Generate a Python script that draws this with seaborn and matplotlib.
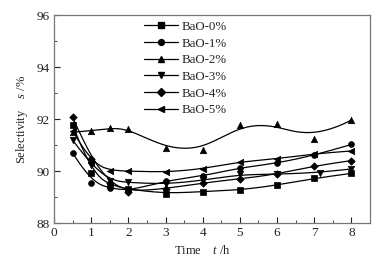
import numpy as np
import pandas as pd
import seaborn as sns
import matplotlib
matplotlib.use("Agg")
import matplotlib.pyplot as plt
from matplotlib.lines import Line2D
from matplotlib.ticker import MultipleLocator

sns.set_theme(style="white")
plt.rcParams['font.family'] = ['Liberation Serif', 'DejaVu Serif']
plt.rcParams['mathtext.fontset'] = 'custom'
plt.rcParams['mathtext.rm'] = 'Liberation Serif'
plt.rcParams['mathtext.it'] = 'Liberation Serif:italic'

series_names = ["BaO-0%", "BaO-1%", "BaO-2%", "BaO-3%", "BaO-4%", "BaO-5%"]
x_common = [0.5, 1, 1.5, 2, 3, 4, 5, 6, 7, 8]
x_bao3 = [0.5, 1, 1.5, 2, 3, 4, 5, 6, 7.15, 8]
bao0 = [91.77, 89.93, 89.45, 89.30, 89.13, 89.21, 89.27, 89.45, 89.72, 89.91]
bao1 = [90.70, 89.55, 89.35, 89.22, 89.63, 89.80, 90.13, 90.29, 90.60, 91.02]
bao2 = [91.49, 91.55, 91.65, 91.63, 90.87, 90.81, 91.76, 91.81, 91.22, 91.96]
bao3 = [91.19, 90.23, 89.62, 89.56, 89.49, 89.64, 89.87, 89.87, 89.94, 90.08]
bao4 = [92.07, 90.46, 89.55, 89.20, 89.32, 89.54, 89.70, 89.87, 90.20, 90.40]
bao5 = [91.55, 90.30, 90.01, 90.00, 89.95, 90.08, 90.36, 90.46, 90.67, 90.77]
x_ticks = [0, 1, 2, 3, 4, 5, 6, 7, 8]
y_ticks = [88, 90, 92, 94, 96]

xs_all = [x_common, x_common, x_common, x_bao3, x_common, x_common]
ys_all = [bao0, bao1, bao2, bao3, bao4, bao5]
markers = ['s', 'o', '^', 'v', 'D', '<']
msizes = [4.2, 4.2, 4.6, 4.6, 3.8, 4.6]


def bspline_curve(px, py, npts=400, k=3):
    """Clamped uniform B-spline using the data points as control points."""
    P = np.column_stack([px, py]).astype(float)
    n = len(P)
    inner = np.arange(1, n - k)
    knots = np.concatenate([np.zeros(k + 1), inner, np.full(k + 1, n - k)]).astype(float)
    t = np.linspace(0, n - k, npts)
    t[-1] -= 1e-9
    N = np.zeros((npts, len(knots) - 1))
    for i in range(len(knots) - 1):
        N[:, i] = ((t >= knots[i]) & (t < knots[i + 1])).astype(float)
    for d in range(1, k + 1):
        Nn = np.zeros((npts, len(knots) - 1 - d))
        for i in range(len(knots) - 1 - d):
            a = knots[i + d] - knots[i]
            b = knots[i + d + 1] - knots[i + 1]
            term = np.zeros(npts)
            if a > 0:
                term += (t - knots[i]) / a * N[:, i]
            if b > 0:
                term += (knots[i + d + 1] - t) / b * N[:, i + 1]
            Nn[:, i] = term
        N = Nn
    C = N @ P
    return C[:, 0], C[:, 1]


fig = plt.figure(figsize=(3.9, 2.65), dpi=100)
ax = fig.add_axes([54 / 390, 42 / 265, 316 / 390, 208 / 265])

handles = []
for name, xv, yv, m, ms in zip(series_names, xs_all, ys_all, markers, msizes):
    xn, yn = bspline_curve(xv, yv)
    sns.lineplot(x=xn, y=yn, color='black', lw=0.9, ax=ax, legend=False, sort=False)
    sns.scatterplot(x=xv, y=yv, marker=m, s=ms ** 2, color='black', edgecolor='black',
                    linewidth=0.5, ax=ax, legend=False, zorder=3)
    handles.append(Line2D([], [], color='black', lw=0.9, marker=m, markersize=ms))

ax.set_xlim(0, 8.5)
ax.set_ylim(88, 96)
ax.set_xticks(x_ticks)
ax.set_yticks(y_ticks)
ax.xaxis.set_minor_locator(MultipleLocator(0.5))
ax.yaxis.set_minor_locator(MultipleLocator(1))
ax.tick_params(which='major', direction='in', length=4, width=0.8, labelsize=9.5,
               colors='#222222', pad=3, bottom=True, left=True)
ax.tick_params(which='minor', direction='in', length=2, width=0.6, bottom=True, left=True)
for sp in ax.spines.values():
    sp.set_color('#777777')
    sp.set_linewidth(0.9)

ax.set_xlabel(r"Time    $t$ /h", fontsize=9, labelpad=1, color='#222222')
ax.set_ylabel(r"Selectivity    $s$ /%", fontsize=9, labelpad=5, color='#222222')
ax.xaxis.set_label_coords(0.47, -0.1)

leg = ax.legend(handles, series_names, loc='upper left', bbox_to_anchor=(0.25, 1.025),
                frameon=False, fontsize=9.3, handlelength=2.6, handletextpad=0.3,
                labelspacing=0.36, borderpad=0.35)

fig.savefig("out.png", dpi=100)
